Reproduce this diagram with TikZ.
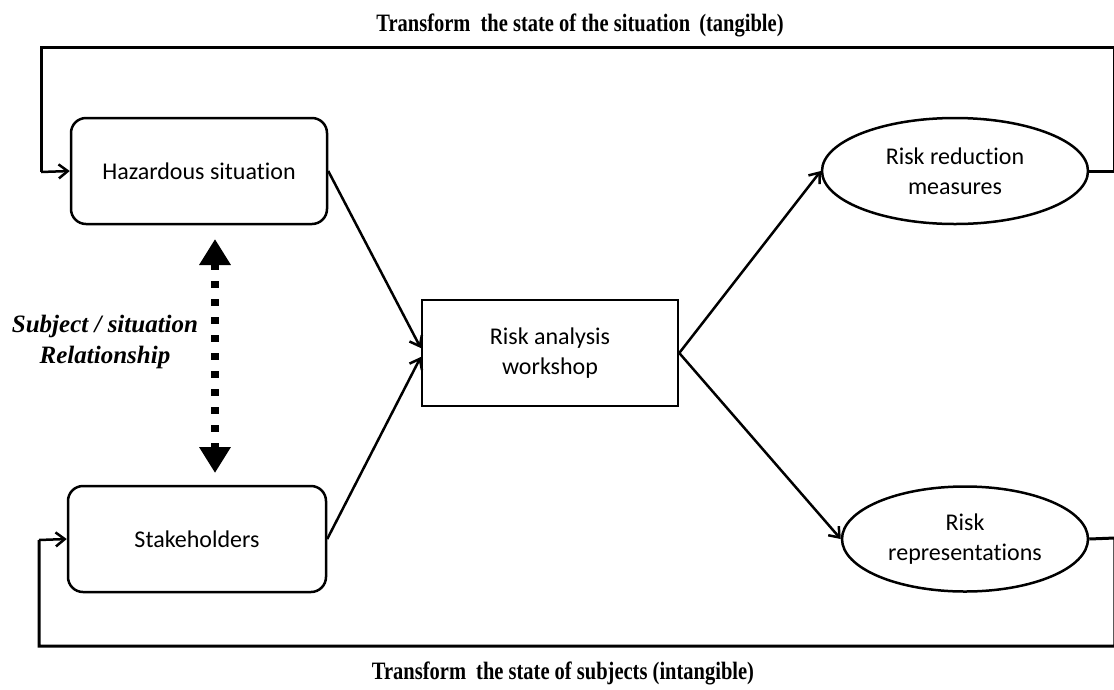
\documentclass[tikz,border=0pt]{standalone}
\usepackage{fontspec}
\setmainfont{Liberation Serif}
\newfontfamily\boxfont[Ligatures=NoCommon]{Carlito}
\newfontfamily\titlefont[FakeStretch=0.82]{Liberation Serif}
\usetikzlibrary{arrows.meta,shapes.geometric,calc}
\tikzset{
  boxtext/.style={font=\boxfont\fontsize{24}{30}\selectfont, align=center, inner sep=0pt, line width=2.5pt, draw},
  roundbox/.style={boxtext, rectangle, rounded corners=15pt},
  sqbox/.style={boxtext, rectangle},
  ellbox/.style={boxtext, ellipse},
  flow/.style={line width=2.5pt, -{Straight Barb[length=9pt,width=14pt,line width=2.5pt]}},
  loopline/.style={line width=3pt},
  title/.style={font=\titlefont\fontsize{25}{30}\selectfont\bfseries, inner sep=0pt},
  rel/.style={line width=8pt, dash pattern=on 7pt off 11pt,
    {Triangle[length=26pt,width=30pt]}-{Triangle[length=26pt,width=30pt]}},
  rellabel/.style={font=\fontsize{25}{31}\selectfont\bfseries\itshape, align=center, inner sep=0pt}
}
\begin{document}
\begin{tikzpicture}[x=1pt,y=-1pt]
\useasboundingbox (0,0) rectangle (1114,689);
\node[roundbox, minimum width=256pt, minimum height=106pt] (haz) at (199,171) {Hazardous situation};
\node[roundbox, minimum width=258pt, minimum height=106pt] (stake) at (197,539) {Stakeholders};
\node[sqbox, minimum width=256pt, minimum height=106pt] (rw) at (550,353) {Risk analysis\\workshop};
\node[ellbox, minimum width=266pt, minimum height=106pt] (rrm) at (955,171) {Risk reduction\\measures};
\node[ellbox, minimum width=246pt, minimum height=105pt] (rr) at (965,539) {Risk\\representations};

\node[title] (ttop) at (580,25) {Transform\hspace{5pt} the state of the situation\hspace{4pt} (tangible)};
\node[title] (tbot) at (563,673) {Transform\hspace{5pt} the state of subjects (intangible)};
\node[rellabel] (rl) at (105,342) {Subject / situation\\Relationship};

\coordinate (tr1) at (1114.8,171);
\coordinate (tr2) at (1114.8,47);
\coordinate (tl1) at (41,47);
\coordinate (tl2) at (41,172);
\coordinate (br1) at (1114.8,538);
\coordinate (br2) at (1114.8,646);
\coordinate (bl1) at (39,646);
\coordinate (bl2) at (39,540);

\draw[loopline] (rrm.east) -- (tr1) -- (tr2) -- (tl1) -- (tl2);
\draw[flow] (tl2) -- (haz.west);
\draw[loopline] (rr.east) -- (br1) -- (br2) -- (bl1) -- (bl2);
\draw[flow] (bl2) -- (stake.west);

\draw[flow] (haz.east) -- ([yshift=5pt]rw.west);
\draw[flow] (stake.east) -- ([yshift=-4pt]rw.west);
\draw[flow] (rw.east) -- (rrm.west);
\draw[flow] (rw.east) -- (rr.west);

\coordinate (rtop) at (215,239);
\coordinate (rbot) at (215,473);
\draw[rel] (rtop) -- (rbot);
\end{tikzpicture}
\end{document}
